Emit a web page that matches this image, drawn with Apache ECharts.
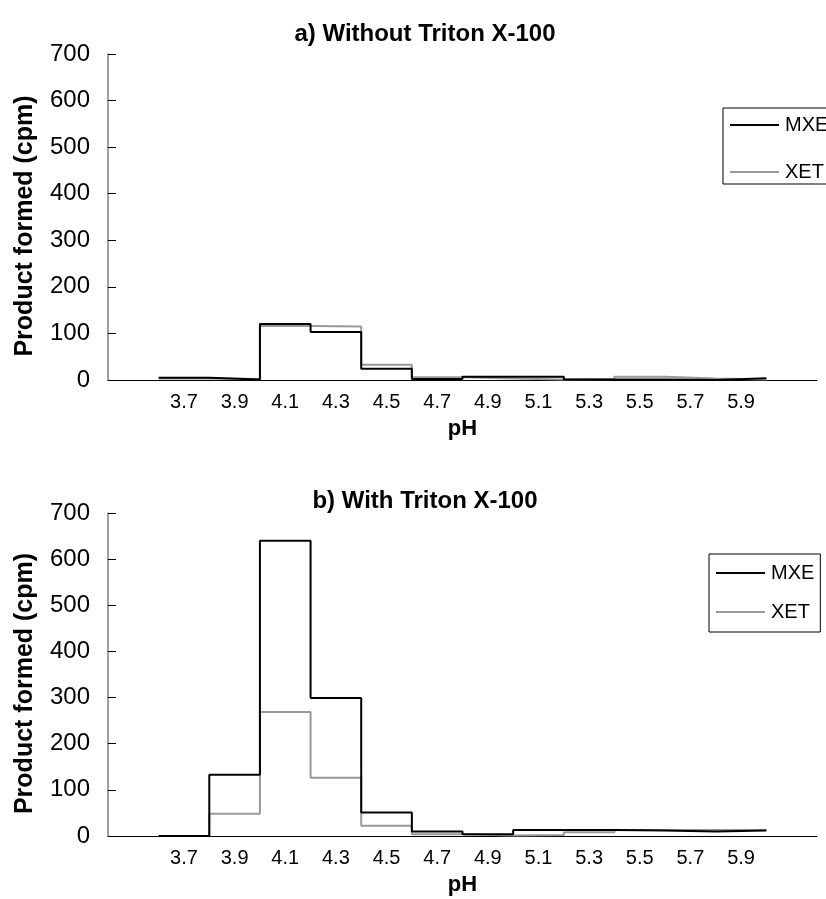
<!DOCTYPE html>
<html>
<head>
<meta charset="utf-8">
<script src="https://cdn.jsdelivr.net/npm/echarts@6/dist/echarts.min.js"></script>
<style>html,body{margin:0;padding:0;background:#fff;}#chart{width:826px;height:899px;}</style>
</head>
<body>
<div id="chart"></div>
<script>
// pH categories (an empty slot at each end, as in the original)
const categories = ['', '3.7', '3.9', '4.1', '4.3', '4.5', '4.7', '4.9', '5.1', '5.3', '5.5', '5.7', '5.9', ''];
const phValues = ['3.7', '3.9', '4.1', '4.3', '4.5', '4.7', '4.9', '5.1', '5.3', '5.5', '5.7', '5.9'];
const yTicks = [0, 100, 200, 300, 400, 500, 600, 700];

// a) Without Triton X-100
const mxeA = [5, 1, 120, 103, 24, 2, 7, 7, 1, 1, 0, 4];
const xetA = [3, 2, 116, 115, 33, 6, 3, 1, 2, 7, 3, 1];
// b) With Triton X-100
const mxeB = [0, 133, 640, 299, 51, 10, 4, 13, 13, 12, 10, 12];
const xetB = [0, 48, 269, 126, 22, 4, 1, 2, 8, 13, 13, 13];

const titles = ['a) Without Triton X-100', 'b) With Triton X-100'];

// histogram-style steps: each value spans one category band
function steps(vals) {
  const d = vals.map((v, i) => [i + 1, v]);
  d.push([vals.length + 1, vals[vals.length - 1]]);
  return d;
}

const FONT = 'Liberation Sans, Arial, sans-serif';
const grids = [
  {left: 108, width: 709, top: 54, height: 326},
  {left: 108, width: 709, top: 513, height: 323}
];

const legendText = {fontFamily: FONT, fontSize: 20, color: '#000', padding: [0, 0, 0, 1]};

const option = {
  animation: false,
  textStyle: {fontFamily: FONT},
  title: titles.map((t, i) => ({
    text: t, left: 420, textAlign: 'center', top: i === 0 ? 17 : 484,
    textStyle: {fontFamily: FONT, fontWeight: 'bold', fontSize: 24, color: '#000'}
  })),
  legend: [
    {data: ['MXE', 'XET'], orient: 'vertical', left: 723, top: 108, icon: 'rect',
     itemWidth: 49, itemHeight: 2, itemGap: 27, padding: [7, 30, 2, 7],
     borderColor: '#000', borderWidth: 1, borderRadius: 0, textStyle: legendText},
    {data: ['MXE', 'XET'], orient: 'vertical', left: 709, top: 554, icon: 'rect',
     itemWidth: 49, itemHeight: 2, itemGap: 19, padding: [9, 6, 10, 7],
     borderColor: '#000', borderWidth: 1, borderRadius: 0, textStyle: legendText}
  ],
  grid: grids,
  xAxis: [0, 1].flatMap(g => [
    {type: 'category', gridIndex: g, data: categories, boundaryGap: true,
     name: 'pH', nameLocation: 'middle', nameGap: 38,
     nameTextStyle: {fontFamily: FONT, fontWeight: 'bold', fontSize: 22, color: '#000'},
     axisLine: {lineStyle: {color: '#000', width: 1}},
     axisTick: {inside: true, length: 5, lineStyle: {color: '#000'}},
     axisLabel: {fontFamily: FONT, fontSize: 20, color: '#000', margin: 12, interval: 0},
     splitLine: {show: false}},
    {type: 'value', gridIndex: g, min: 0, max: categories.length, show: false}
  ]),
  yAxis: [0, 1].map(g => ({
    type: 'value', gridIndex: g, min: yTicks[0], max: yTicks[yTicks.length - 1], interval: 100,
    name: 'Product formed (cpm)', nameLocation: 'middle', nameGap: 70,
    nameTextStyle: {fontFamily: FONT, fontWeight: 'bold', fontSize: 25, color: '#000', padding: [0, 18, 0, 0]},
    axisLine: {show: true, lineStyle: {color: '#808080', width: 1.5}},
    axisTick: {show: true, inside: true, length: 8, lineStyle: {color: '#000'}},
    axisLabel: {fontFamily: FONT, fontSize: 24, color: '#000', margin: 18},
    splitLine: {show: false}
  })),
  series: [
    {name: 'MXE', data: steps(mxeA), color: '#000', xAxisIndex: 1, yAxisIndex: 0},
    {name: 'XET', data: steps(xetA), color: '#999', xAxisIndex: 1, yAxisIndex: 0},
    {name: 'MXE', data: steps(mxeB), color: '#000', xAxisIndex: 3, yAxisIndex: 1},
    {name: 'XET', data: steps(xetB), color: '#999', xAxisIndex: 3, yAxisIndex: 1}
  ].map(s => Object.assign({
    type: 'line', step: 'end', symbol: 'none', lineStyle: {width: 2, color: s.color}, z: s.name === 'MXE' ? 3 : 2
  }, s))
};

const chart = echarts.init(document.getElementById('chart'), null, {renderer: 'canvas'});
chart.setOption(option);
</script>
</body>
</html>
